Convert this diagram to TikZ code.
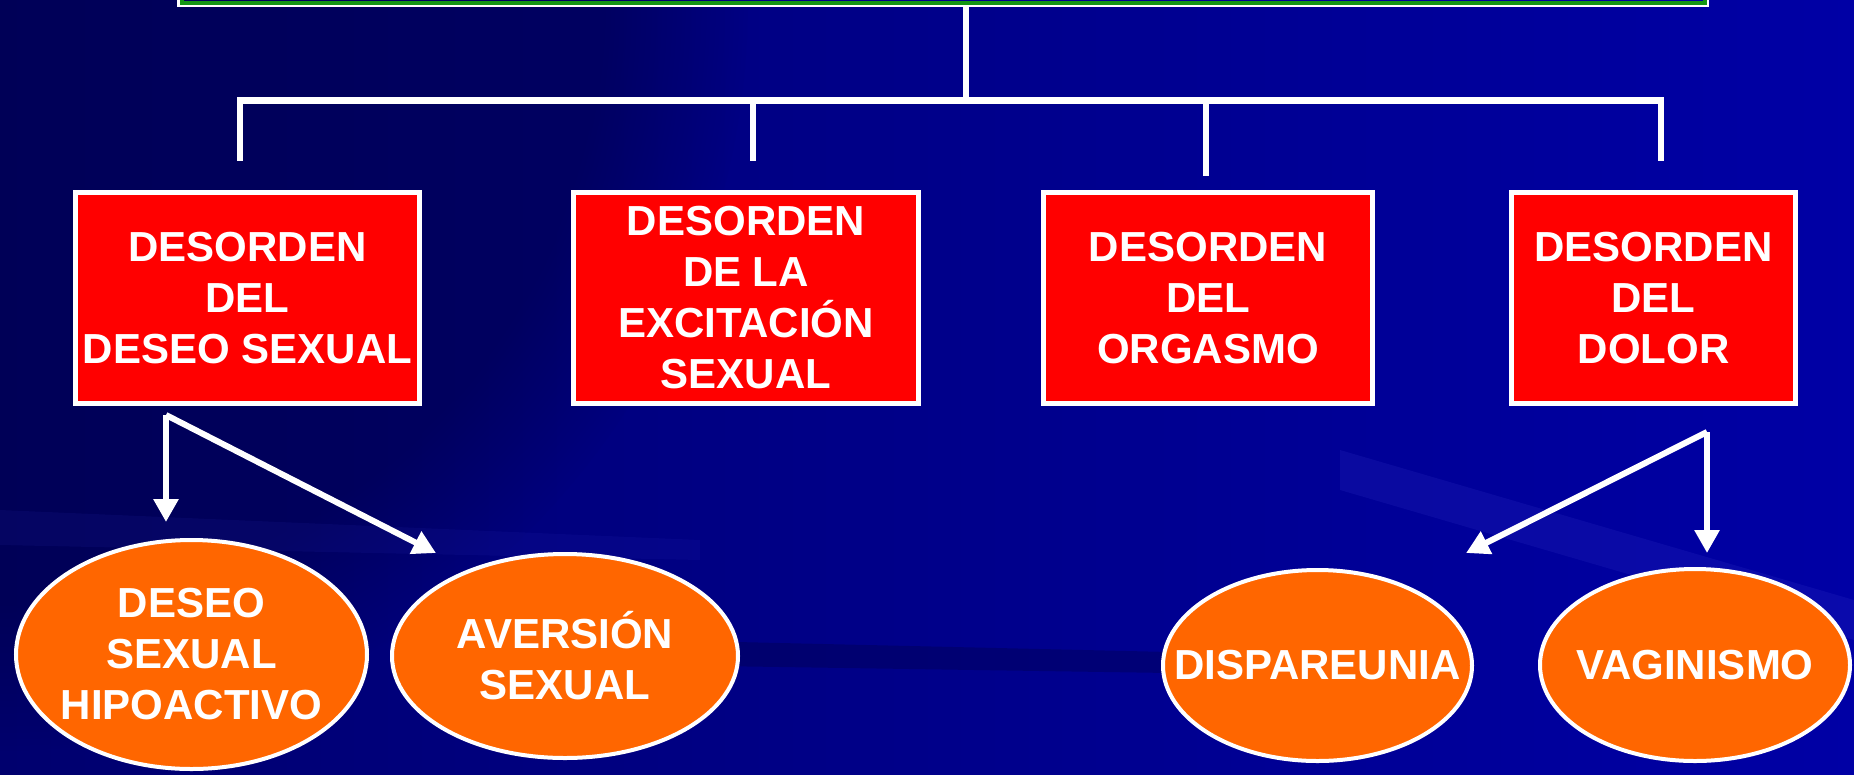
\documentclass[tikz,border=0pt]{standalone}
\usepackage{fontspec}
\setmainfont{Liberation Sans}
\usetikzlibrary{arrows.meta,shapes.geometric,fadings}
\definecolor{bgdark}{RGB}{0,0,110}
\definecolor{bglight}{RGB}{0,0,165}
\definecolor{bgdeep}{RGB}{0,0,60}
\definecolor{streak}{RGB}{50,50,200}
\definecolor{boxred}{RGB}{255,0,0}
\definecolor{ovalorange}{RGB}{255,102,0}
\definecolor{headgreen}{RGB}{20,150,20}
\begin{document}
\begin{tikzpicture}[x=1pt,y=-1pt]
\tikzstyle{head}=[rectangle,draw=white,line width=5pt,minimum width=1527pt,minimum height=109pt];
\tikzstyle{dis}=[rectangle,draw=white,line width=5pt,fill=boxred,text=white,align=center,inner sep=0pt,font=\bfseries\fontsize{42}{51}\selectfont];
\tikzstyle{sub}=[ellipse,draw=white,line width=4pt,fill=ovalorange,text=white,align=center,inner xsep=-40pt,inner ysep=0pt,font=\bfseries\fontsize{42}{51}\selectfont];
\tikzstyle{link}=[white,line width=6pt];
\tikzstyle{arr}=[white,line width=6pt,-{Triangle[width=24pt,length=23pt]}];
\useasboundingbox (0,0) rectangle (1854,774);
\clip (0,0) rectangle (1854,774);
% background
\shade [left color=bgdark,right color=bglight] (0,0) rectangle (1854,774);
\fill [bgdeep,opacity=.45,path fading=circle with fuzzy edge 20 percent] (0,0) circle [radius=750];
\fill [bgdeep,opacity=.3] (650,640) -- (1300,655) -- (1300,675) -- (650,665) -- cycle;
\fill [streak,opacity=.2] (1340,450) -- (1854,600) -- (1854,640) -- (1340,490) -- cycle;
\fill [streak,opacity=.1] (0,510) -- (700,540) -- (700,560) -- (0,545) -- cycle;

\node [head] (top) at (943,-50) {};
\draw [headgreen,line width=4pt] ([shift={(4.5,-4.5)}]top.south west) rectangle ([shift={(-4.5,4.5)}]top.north east);

\node [dis,minimum width=344pt,minimum height=211pt] (r1) at (247.5,298) {DESORDEN\\DEL\\DESEO SEXUAL};
\node [dis,minimum width=345pt,minimum height=211pt] (r2) at (746,298) {DESORDEN\\DE LA\\EXCITACIÓN\\SEXUAL};
\node [dis,minimum width=329pt,minimum height=211pt] (r3) at (1208,298) {DESORDEN\\DEL\\ORGASMO};
\node [dis,minimum width=284pt,minimum height=211pt] (r4) at (1653.5,298) {DESORDEN\\DEL\\DOLOR};

\coordinate (m) at (966,100.5);
\coordinate (c1) at (240,100.5);
\coordinate (c2) at (753,100.5);
\coordinate (c3) at (1206,100.5);
\coordinate (c4) at (1661,100.5);
\coordinate (d1) at (240,161);
\coordinate (d2) at (753,161);
\coordinate (d3) at (1206,176);
\coordinate (d4) at (1661,161);
\draw [link] (top.south -| m) -- (m);
\draw [link,line width=7pt] ([xshift=-3pt]c1) -- ([xshift=3pt]c4);
\draw [link] (c1) -- (d1);
\draw [link] (c2) -- (d2);
\draw [link] (c3) -- (d3);
\draw [link] (c4) -- (d4);

\node [sub,minimum width=351pt,minimum height=229pt] (e1) at (191.5,654.5) {DESEO\\SEXUAL\\HIPOACTIVO};
\node [sub,minimum width=346pt,minimum height=204pt] (e2) at (565,656) {AVERSIÓN\\SEXUAL};
\node [sub,minimum width=309pt,minimum height=191pt] (e3) at (1317.5,665.5) {DISPAREUNIA};
\node [sub,minimum width=310pt,minimum height=192pt] (e4) at (1695,665) {VAGINISMO};

\coordinate (o1) at (166,415);
\coordinate (t1) at (166,522);
\coordinate (t2) at (436,553);
\coordinate (o2) at (1707,432);
\coordinate (t3) at (1466,553);
\coordinate (t4) at (1707,553);
\draw [arr] (o1) -- (t1);
\draw [arr] (o1) -- (t2);
\draw [arr] (o2) -- (t3);
\draw [arr] (o2) -- (t4);
\end{tikzpicture}
\end{document}
